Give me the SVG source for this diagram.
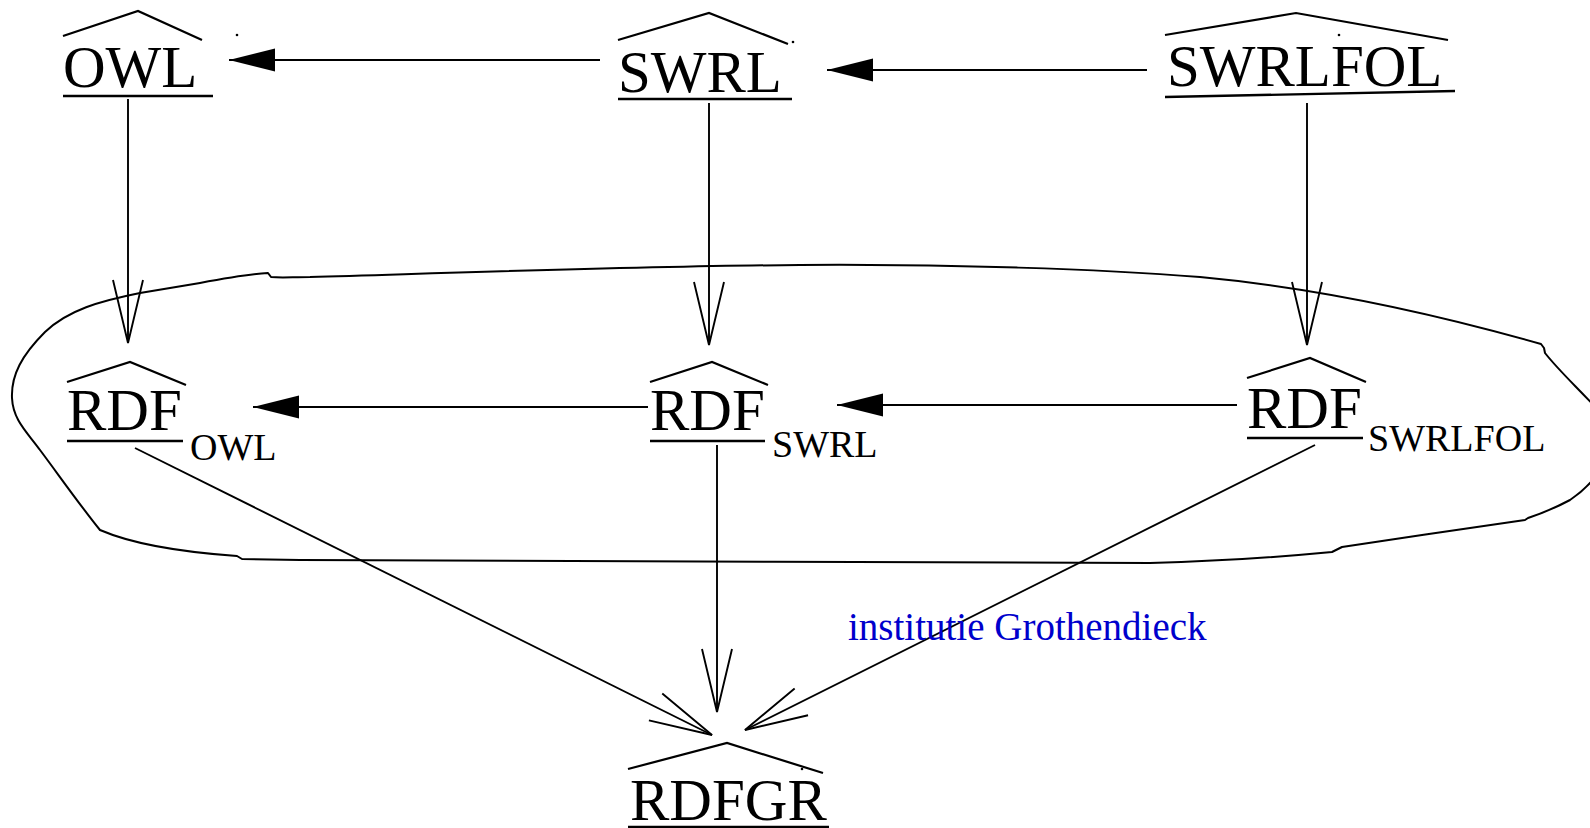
<svg xmlns="http://www.w3.org/2000/svg" width="1590" height="828" viewBox="0 0 1590 828">
  <defs>
    <style>
      .lbl { font-family: "Liberation Serif", "Times New Roman", serif; font-size: 59px; fill: #000; }
      .sub { font-family: "Liberation Serif", "Times New Roman", serif; font-size: 38px; fill: #000; }
      .note { font-family: "Liberation Serif", "Times New Roman", serif; font-size: 39px; fill: #0000cc; }
      .hat { fill: none; stroke: #000; stroke-width: 2.2; stroke-linejoin: miter; }
      .ul { fill: none; stroke: #000; stroke-width: 2.4; }
      .edge { fill: none; stroke: #000; stroke-width: 1.9; }
      .loop { fill: none; stroke: #000; stroke-width: 2; stroke-linejoin: round; }
    </style>
    <marker id="solid" markerUnits="userSpaceOnUse" viewBox="-48 -13 50 26" refX="0" refY="0" markerWidth="50" markerHeight="26" orient="auto">
      <path d="M0,0 L-46,-11.5 L-46,11.5 Z" fill="#000"/>
    </marker>
    <marker id="open" markerUnits="userSpaceOnUse" viewBox="-66 -18 68 36" refX="0" refY="0" markerWidth="68" markerHeight="36" orient="auto">
      <path d="M-63,-15 L0,0 L-63,15" fill="none" stroke="#000" stroke-width="1.9"/>
    </marker>
  </defs>

  <rect width="1590" height="828" fill="#fff"/>

  <!-- closed curve around the RDF row -->
  <g id="institution">
    <path class="loop" d="M 1150,563 C 900,562 500,561 300,560 L 242,559 L 237,556 C 180,552 130,543 100,530 C 82,508 58,474 40,450 C 27,432 13,420 12,398 C 11,375 22,355 45,332 C 68,310 100,301 140,293 L 200,283 C 232,277 252,274 268,273 L 271,277 C 282,278 292,277 310,277 C 480,272 650,266 800,265 C 950,264 1100,269 1200,277 C 1330,289 1450,318 1541,344 L 1544,348 L 1545,353 C 1560,372 1578,388 1598,410 L 1600,470 C 1595,478 1585,490 1570,500 C 1555,508 1540,514 1528,518 L 1525,520 C 1470,528 1400,538 1342,547 L 1332,552 C 1280,557 1220,561 1150,563 Z"/>
  </g>

  <!-- connectors -->
  <g id="connectors">
    <line class="edge" x1="600" y1="60" x2="229" y2="60" marker-end="url(#solid)"/>
    <line class="edge" x1="1147" y1="70" x2="827" y2="70" marker-end="url(#solid)"/>
    <line class="edge" x1="648" y1="407" x2="253" y2="407" marker-end="url(#solid)"/>
    <line class="edge" x1="1237" y1="405" x2="837" y2="405" marker-end="url(#solid)"/>
    <line class="edge" x1="128" y1="99" x2="128" y2="343" marker-end="url(#open)"/>
    <line class="edge" x1="709" y1="103" x2="709" y2="345" marker-end="url(#open)"/>
    <line class="edge" x1="1307" y1="103" x2="1307" y2="345" marker-end="url(#open)"/>
    <line class="edge" x1="135" y1="448" x2="712" y2="735" marker-end="url(#open)"/>
    <line class="edge" x1="717" y1="445" x2="717" y2="712" marker-end="url(#open)"/>
    <line class="edge" x1="1315" y1="445" x2="745" y2="730" marker-end="url(#open)"/>
  </g>

  <!-- top row -->
  <g id="owl">
    <polyline class="hat" points="63,36 138,11 202,40"/>
    <text class="lbl" x="63" y="87">OWL</text>
    <line class="ul" x1="63" y1="96" x2="213" y2="96"/>
    <circle cx="237" cy="35" r="1.3" fill="#000"/>
  </g>
  <g id="swrl">
    <polyline class="hat" points="618,40 709,13 788,44"/>
    <text class="lbl" x="618" y="92">SWRL</text>
    <line class="ul" x1="618" y1="99" x2="792" y2="99"/>
    <circle cx="793" cy="42" r="1.3" fill="#000"/>
  </g>
  <g id="swrlfol">
    <polyline class="hat" points="1165,35 1296,13 1448,40"/>
    <text class="lbl" x="1167" y="86">SWRLFOL</text>
    <line class="ul" x1="1165" y1="97" x2="1455" y2="91"/>
    <circle cx="1339" cy="35" r="1.3" fill="#000"/>
  </g>

  <!-- middle row -->
  <g id="rdf-owl">
    <polyline class="hat" points="67,382 130,362 186,385"/>
    <text class="lbl" x="67" y="430">RDF</text>
    <line class="ul" x1="67" y1="441" x2="183" y2="441"/>
    <text class="sub" x="190" y="460">OWL</text>
  </g>
  <g id="rdf-swrl">
    <polyline class="hat" points="650,382 712,362 768,385"/>
    <text class="lbl" x="650" y="430">RDF</text>
    <line class="ul" x1="650" y1="441" x2="765" y2="441"/>
    <text class="sub" x="772" y="457">SWRL</text>
  </g>
  <g id="rdf-swrlfol">
    <polyline class="hat" points="1247,378 1310,358 1366,382"/>
    <text class="lbl" x="1247" y="428">RDF</text>
    <line class="ul" x1="1247" y1="438" x2="1363" y2="438"/>
    <text class="sub" x="1368" y="451">SWRLFOL</text>
  </g>

  <!-- bottom -->
  <g id="rdfgr">
    <polyline class="hat" points="628,769 727,743 823,773"/>
    <text class="lbl" x="630" y="820">RDFGR</text>
    <line class="ul" x1="628" y1="827" x2="829" y2="827"/>
    <circle cx="802" cy="769" r="1.3" fill="#000"/>
  </g>

  <g id="caption">
    <text class="note" x="848" y="640">institutie Grothendieck</text>
  </g>
</svg>
